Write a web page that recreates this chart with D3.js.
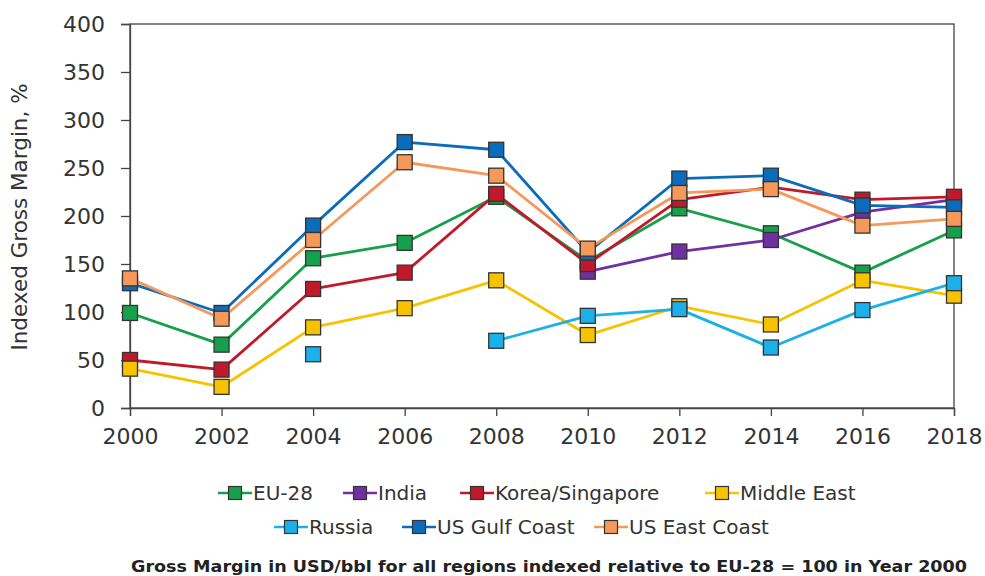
<!DOCTYPE html>
<html><head><meta charset="utf-8">
<script src="https://cdn.jsdelivr.net/npm/d3@7"></script>
<style>body{margin:0;background:#fff}svg{display:block}</style>
</head><body>
<svg id="c" width="985" height="576"></svg>
<script>
const years = [2000, 2002, 2004, 2006, 2008, 2010, 2012, 2014, 2016, 2018];
const yTicks = [0, 50, 100, 150, 200, 250, 300, 350, 400];
const seriesNames = ["EU-28", "India", "Korea/Singapore", "Middle East", "Russia", "US Gulf Coast", "US East Coast"];
const seriesColors = ["#17a04b", "#7030a0", "#c0192b", "#f7c300", "#1cb0ea", "#0b6cbb", "#f5995a"];
const euValues     = [99, 66, 156, 172, 220, 153, 208, 182, 141, 185];
const indiaValues  = [null, null, null, null, null, 142, 163, 175, 204, 217];
const koreaValues  = [50, 40, 124, 141, 223, 150, 217, 230, 217, 220];
const meValues     = [41, 22, 84, 104, 133, 76, 106, 87, 133, 117];
const russiaValues = [null, null, 56, null, 70, 96, 103, 63, 102, 130];
const gulfValues   = [130, 99, 190, 277, 269, 162, 239, 242, 211, 209];
const eastValues   = [135, 93, 175, 256, 242, 166, 224, 228, 190, 197];
const allValues = [euValues, indiaValues, koreaValues, meValues, russiaValues, gulfValues, eastValues];
const caption = "Gross Margin in USD/bbl for all regions indexed relative to EU-28 = 100 in Year 2000";
const yTitle = "Indexed Gross Margin, %";

const svg = d3.select("#c");
const L = 130, R = 954, T = 24, B = 408;
const x = d3.scaleLinear().domain([2000, 2018]).range([L, R]);
const y = d3.scaleLinear().domain([0, 400]).range([B, T]);
const txt = "#333";
const font = "DejaVu Sans, Verdana, sans-serif";

// frame
svg.append("rect").attr("x", L).attr("y", T).attr("width", R - L).attr("height", B - T)
  .attr("fill", "none").attr("stroke", "#444").attr("stroke-width", 1.3);

const yAxis = svg.append("g").attr("transform", `translate(${L},0)`)
  .call(d3.axisLeft(y).tickValues(yTicks).tickSize(9).tickPadding(16));
const xAxis = svg.append("g").attr("transform", `translate(0,${B})`)
  .call(d3.axisBottom(x).tickValues(years).tickFormat(d3.format("d")).tickSize(8).tickPadding(12));
[yAxis, xAxis].forEach(g => {
  g.select(".domain").attr("stroke", "#444").attr("stroke-width", 1.3);
  g.selectAll(".tick line").attr("stroke", "#444").attr("stroke-width", 1.3);
  g.selectAll(".tick text").attr("fill", txt).attr("font-family", font).attr("font-size", 22);
});

svg.append("text").attr("transform", `translate(27,${(T + B) / 2 + 1}) rotate(-90)`)
  .attr("text-anchor", "middle").attr("font-family", font).attr("font-size", 21.5)
  .attr("fill", txt).text(yTitle);

const line = d3.line().defined(d => d.v != null).x(d => x(d.yr)).y(d => y(d.v));
const ms = 15;
allValues.forEach((vals, i) => {
  const data = years.map((yr, j) => ({ yr, v: vals[j] }));
  const g = svg.append("g");
  g.append("path").datum(data).attr("d", line).attr("fill", "none")
    .attr("stroke", seriesColors[i]).attr("stroke-width", 2.8).attr("stroke-linejoin", "round");
  g.selectAll("rect").data(data.filter(d => d.v != null)).join("rect")
    .attr("x", d => x(d.yr) - ms / 2).attr("y", d => y(d.v) - ms / 2)
    .attr("width", ms).attr("height", ms)
    .attr("fill", seriesColors[i]).attr("stroke", "#333").attr("stroke-width", 1.3);
});

// legend
const legendPos = [
  [235, 493], [360, 493], [477, 493], [722, 493],
  [291, 527], [419, 527], [611, 527]
];
seriesNames.forEach((name, i) => {
  const [cx, cy] = legendPos[i];
  const g = svg.append("g");
  g.append("line").attr("x1", cx - 17).attr("x2", cx + 17).attr("y1", cy).attr("y2", cy)
    .attr("stroke", seriesColors[i]).attr("stroke-width", 2.5);
  g.append("rect").attr("x", cx - 6.5).attr("y", cy - 6.5).attr("width", 13).attr("height", 13)
    .attr("fill", seriesColors[i]).attr("stroke", "#333").attr("stroke-width", 1.2);
  g.append("text").attr("x", cx + 18).attr("y", cy).attr("dy", "0.35em")
    .attr("font-family", font).attr("font-size", 20).attr("fill", txt).text(name);
});

svg.append("text").attr("x", 549).attr("y", 572).attr("text-anchor", "middle")
  .attr("font-family", font).attr("font-weight", "bold").attr("font-size", 15.5)
  .attr("fill", "#222").attr("textLength", 836).attr("lengthAdjust", "spacingAndGlyphs").text(caption);
</script>
</body></html>
